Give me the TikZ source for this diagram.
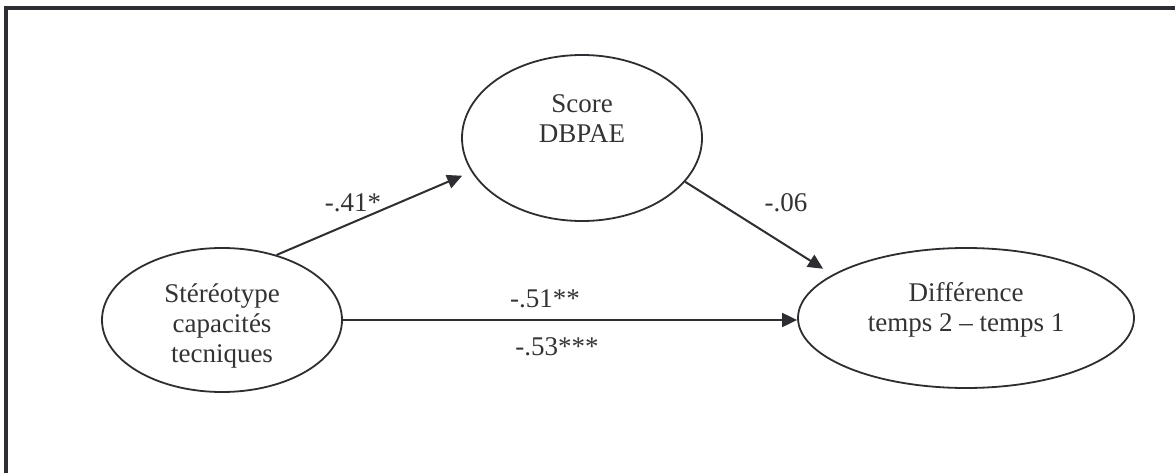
\documentclass[tikz,border=0pt]{standalone}
\usepackage{fontspec}
\setmainfont{Liberation Serif}
\usetikzlibrary{shapes.geometric,arrows.meta}
\definecolor{ink}{HTML}{2E2E32}
\definecolor{txt}{HTML}{333336}
\tikzset{
  var/.style={draw=ink, line width=1.8pt, ellipse, inner sep=0pt},
  lbl/.style={text=txt, inner sep=0pt, font=\fontsize{27}{30}\selectfont, align=center},
  arr/.style={draw=ink, line width=2pt, -{Triangle[length=15pt,width=14pt]}}
}
\begin{document}
\begin{tikzpicture}[x=1pt,y=-1pt]
\clip (0,0) rectangle (1175,473);
\fill[white] (0,0) rectangle (1175,473);
\draw[ink, line width=4pt] (6,8) rectangle (1200,500);
% ellipses
\node[var, minimum width=240pt, minimum height=144pt] (L) at (222,320) {};
\node[var, minimum width=240pt, minimum height=166pt] (S) at (582,138) {};
\node[var, minimum width=336pt, minimum height=140pt] (D) at (966,318) {};
% texts
\node[lbl] (Lt) at (222,326) {Stéréotype\\capacités\\tecniques};
\node[lbl] (St) at (582,119) {Score\\DBPAE};
\node[lbl] (Dt) at (966,310) {Différence\\temps 2 – temps 1};
% connectors
\draw[arr, shorten >=10pt] (L.50) -- (S.197);
\draw[arr, shorten >=11pt] (S.-23) -- (D.162);
\draw[arr] (L.east) -- (L.east -| D.west);
% labels
\node[lbl] (a) at (353,203) {-.41*};
\node[lbl] (b) at (786,203) {-.06};
\node[lbl] (c) at (545,299) {-.51**};
\node[lbl] (d) at (557,347) {-.53***};
\end{tikzpicture}
\end{document}
